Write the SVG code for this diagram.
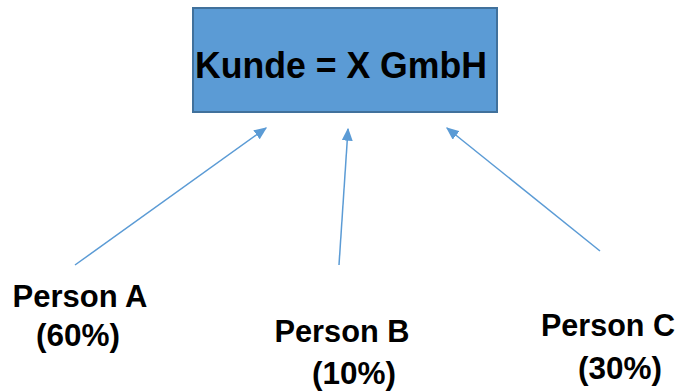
<svg xmlns="http://www.w3.org/2000/svg" width="678" height="392" viewBox="0 0 678 392">
<defs>
<style>
.lbl{font-family:"Liberation Sans",Arial,sans-serif;font-weight:bold;fill:#000;}
.conn{stroke:#5B9BD5;stroke-width:1.5;fill:none;marker-end:url(#ah);}
</style>
<marker id="ah" viewBox="0 0 10 10" refX="9" refY="5" markerWidth="13" markerHeight="11" markerUnits="userSpaceOnUse" orient="auto" preserveAspectRatio="none">
<path d="M0,0 L10,5 L0,10 Z" fill="#5B9BD5"/>
</marker>
</defs>
<rect width="678" height="392" fill="#fff"/>
<g id="kunde">
<rect x="193" y="8" width="304" height="104" fill="#5B9BD5" stroke="#41719C" stroke-width="2"/>
<text class="lbl" x="341" y="78" font-size="37" text-anchor="middle" textLength="292" lengthAdjust="spacingAndGlyphs">Kunde = X GmbH</text>
</g>
<g id="connectors">
<line class="conn" x1="75" y1="265" x2="266" y2="128"/>
<line class="conn" x1="339" y1="265" x2="348" y2="129"/>
<line class="conn" x1="600" y1="251" x2="447" y2="128"/>
</g>
<g id="personA">
<text class="lbl" x="80" y="307" font-size="31" text-anchor="middle" textLength="135" lengthAdjust="spacingAndGlyphs">Person A</text>
<text class="lbl" x="78" y="346" font-size="31" text-anchor="middle" textLength="84" lengthAdjust="spacingAndGlyphs">(60%)</text>
</g>
<g id="personB">
<text class="lbl" x="342" y="342" font-size="31" text-anchor="middle" textLength="135" lengthAdjust="spacingAndGlyphs">Person B</text>
<text class="lbl" x="354" y="384" font-size="31" text-anchor="middle" textLength="84" lengthAdjust="spacingAndGlyphs">(10%)</text>
</g>
<g id="personC">
<text class="lbl" x="608" y="336" font-size="31" text-anchor="middle" textLength="134" lengthAdjust="spacingAndGlyphs">Person C</text>
<text class="lbl" x="620" y="379" font-size="31" text-anchor="middle" textLength="84" lengthAdjust="spacingAndGlyphs">(30%)</text>
</g>
</svg>
